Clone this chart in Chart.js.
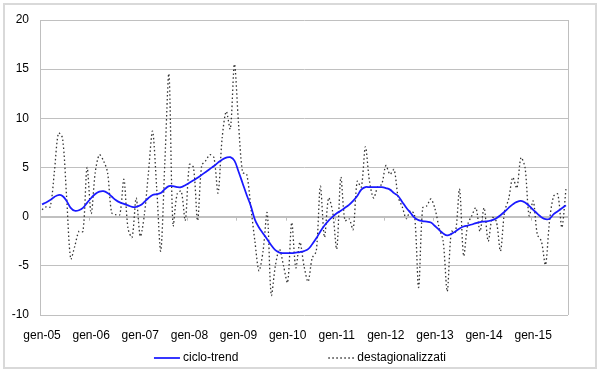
<!DOCTYPE html>
<html>
<head>
<meta charset="utf-8">
<script src="https://cdn.jsdelivr.net/npm/chart.js"></script>
<style>
  body { margin: 0; background: #fff; }
  #wrap { position: relative; width: 600px; height: 372px; }
  #frame { position: absolute; left: 3px; top: 3px; width: 590px; height: 362px; border: 2px solid #d9d9d9; pointer-events: none; }
</style>
</head>
<body>
<div id="wrap">
  <canvas id="trendChart" width="600" height="372"></canvas>
  <div id="frame"></div>
</div>
<script>

// months (Italian) and years, Jan 2005 -> Sep 2015
const monthNames = ['gen', 'feb', 'mar', 'apr', 'mag', 'giu', 'lug', 'ago', 'set', 'ott', 'nov', 'dic'];
const years = ['05', '06', '07', '08', '09', '10', '11', '12', '13', '14', '15'];
const lastMonthCount = 9;

const yTicks = [-10, -5, 0, 5, 10, 15, 20];

// ciclo-trend
const trend = [
  1.25, 1.45, 1.7, 2.0, 2.2, 2.1, 1.6, 0.9, 0.6, 0.65, 0.9, 1.4,
  1.9, 2.3, 2.55, 2.6, 2.4, 2.05, 1.7, 1.45, 1.3, 1.15, 1.0, 1.0,
  1.15, 1.5, 1.9, 2.2, 2.3, 2.4, 2.8, 3.1, 3.1, 3.0, 3.0, 3.2,
  3.45, 3.7, 3.95, 4.25, 4.55, 4.85, 5.15, 5.5, 5.8, 6.0, 6.05, 5.7,
  4.6, 3.4, 2.2, 1.1, -0.3, -1.1, -1.7, -2.3, -2.9, -3.4, -3.65, -3.7,
  -3.7, -3.7, -3.65, -3.6, -3.5, -3.3, -2.8, -2.2, -1.5, -0.9, -0.4, 0.0,
  0.35, 0.6, 0.9, 1.2, 1.6, 2.1, 2.75, 3.0, 3.0, 3.0, 3.0, 3.0,
  2.9, 2.75, 2.4, 2.1, 1.5, 0.9, 0.4, -0.1, -0.35, -0.45, -0.5, -0.6,
  -0.95, -1.35, -1.7, -1.9, -1.75, -1.5, -1.2, -1.0, -0.9, -0.8, -0.65, -0.55,
  -0.5, -0.45, -0.35, -0.15, 0.15, 0.5, 0.9, 1.25, 1.5, 1.6, 1.45, 1.1,
  0.7, 0.3, -0.05, -0.25, -0.2, 0.25, 0.55, 0.85, 1.15
];

// destagionalizzati
const seasAdj = [
  0.7, 1.0, 1.0, 4.5, 8.5, 8.0, 2.0, -4.3, -3.0, -1.5, -1.5, 5.0,
  0.3, 4.5, 6.3, 5.7, 4.5, 0.4, 0.2, 0.2, 3.8, -1.2, -2.1, 1.9,
  -2.0, 0.2, 4.5, 8.7, 3.0, -3.5, 5.5, 14.5, -0.9, 2.3, 2.6, -0.4,
  5.3, 5.0, -0.4, 5.2, 5.7, 6.3, 6.0, 2.4, 8.0, 10.7, 8.9, 15.5,
  9.5, 4.5, 4.3, 1.0, -2.5, -5.5, -3.5, 0.4, -8.0, -5.0, -3.3, -5.0,
  -6.7, -0.6, -5.2, -2.6, -5.0, -6.6, -4.2, -3.5, 3.1, -2.1, 1.9, 0.5,
  -3.3, 4.0, -0.4, -0.2, -1.3, 3.6, 3.0, 7.1, 3.6, 1.9, 3.0, 3.3,
  5.2, 4.3, 4.8, 2.0, 1.0, -0.2, 0.6, 0.2, -7.2, 0.9, 1.1, 1.8,
  0.8, -1.1, -2.5, -7.6, -1.5, -1.6, 2.8, -4.0, -0.8, 0.1, 0.9, -1.5,
  0.9, -2.5, -0.1, -0.5, -3.5, 0.5, 1.8, 4.0, 2.9, 6.0, 5.0, 0.1,
  1.6, -1.8, -2.5, -4.9, -0.4, 2.1, 2.3, -1.1, 2.8
];

// build the month labels like "gen-05"
const labels = [];
years.forEach((yy, k) => {
  const n = k === years.length - 1 ? lastMonthCount : 12;
  for (let m = 0; m < n; m++) labels.push(monthNames[m] + '-' + yy);
});

Chart.defaults.font.family = '"Liberation Sans", Arial, sans-serif';
Chart.defaults.font.size = 12;
Chart.defaults.color = '#000';

// right border of plot area + small tick marks on the zero axis
const plotFrame = {
  id: 'plotFrame',
  beforeDatasetsDraw(chart) {
    const {ctx, chartArea: a, scales: {x, y}} = chart;
    ctx.save();
    ctx.strokeStyle = '#bfbfbf';
    ctx.lineWidth = 1;
    ctx.beginPath();
    ctx.moveTo(Math.round(a.right) + 0.5, a.top);
    ctx.lineTo(Math.round(a.right) + 0.5, a.bottom);
    const y0 = y.getPixelForValue(0);
    const half = (x.getPixelForValue(1) - x.getPixelForValue(0)) / 2;
    labels.forEach((l, i) => {
      if (i % 12 === 0 && i > 0) {
        const px = Math.round(x.getPixelForValue(i) - half) + 0.5;
        ctx.moveTo(px, y0);
        ctx.lineTo(px, y0 + 4);
      }
    });
    ctx.stroke();
    ctx.restore();
  }
};

// legend at the bottom, two entries spread apart
const bottomLegend = {
  id: 'bottomLegend',
  afterDraw(chart) {
    const ctx = chart.ctx;
    const ds = chart.data.datasets;
    const sample = 26, gap = 3, between = 90, y = 358;
    ctx.save();
    ctx.font = '12px "Liberation Sans", Arial, sans-serif';
    ctx.textBaseline = 'middle';
    const widths = ds.map(d => sample + gap + ctx.measureText(d.label).width);
    let x = (chart.width - (widths[0] + between + widths[1])) / 2;
    ds.forEach((d, i) => {
      ctx.strokeStyle = d.borderColor;
      ctx.lineWidth = d.borderWidth;
      ctx.setLineDash(d.borderDash || []);
      ctx.beginPath();
      ctx.moveTo(x, y);
      ctx.lineTo(x + sample, y);
      ctx.stroke();
      ctx.setLineDash([]);
      ctx.fillStyle = '#000';
      ctx.fillText(d.label, x + sample + gap, y);
      x += widths[i] + between;
    });
    ctx.restore();
  }
};

new Chart(document.getElementById('trendChart'), {
  type: 'line',
  data: {
    labels: labels,
    datasets: [
      {
        label: 'ciclo-trend',
        data: trend,
        borderColor: '#1a1aff',
        borderWidth: 1.75,
        tension: 0.4,
        pointRadius: 0
      },
      {
        label: 'destagionalizzati',
        data: seasAdj,
        borderColor: '#333333',
        borderWidth: 1.3,
        borderDash: [1.5, 2.5],
        tension: 0.3,
        pointRadius: 0
      }
    ]
  },
  options: {
    responsive: false,
    animation: false,
    layout: { padding: { left: 0, right: 32, top: 20, bottom: 0 } },
    plugins: {
      legend: { display: false },
      tooltip: { enabled: false }
    },
    scales: {
      x: {
        type: 'category',
        offset: true,
        grid: { display: false },
        border: { display: false },
        ticks: {
          autoSkip: false,
          maxRotation: 0,
          padding: 5,
          callback: (v, i) => (i % 12 === 0 ? labels[i] : null)
        },
        afterFit: s => { s.height = 57; }
      },
      y: {
        min: yTicks[0],
        max: yTicks[yTicks.length - 1],
        afterBuildTicks: s => { s.ticks = yTicks.map(v => ({ value: v })); },
        grid: {
          color: '#c0c0c0',
          lineWidth: c => (c.tick && c.tick.value === 0 ? 2 : 1),
          drawTicks: false
        },
        border: { display: true, color: '#bfbfbf', width: 1 },
        ticks: { padding: 11 },
        afterFit: s => { s.width = 40; }
      }
    }
  },
  plugins: [plotFrame, bottomLegend]
});

</script>
</body>
</html>
